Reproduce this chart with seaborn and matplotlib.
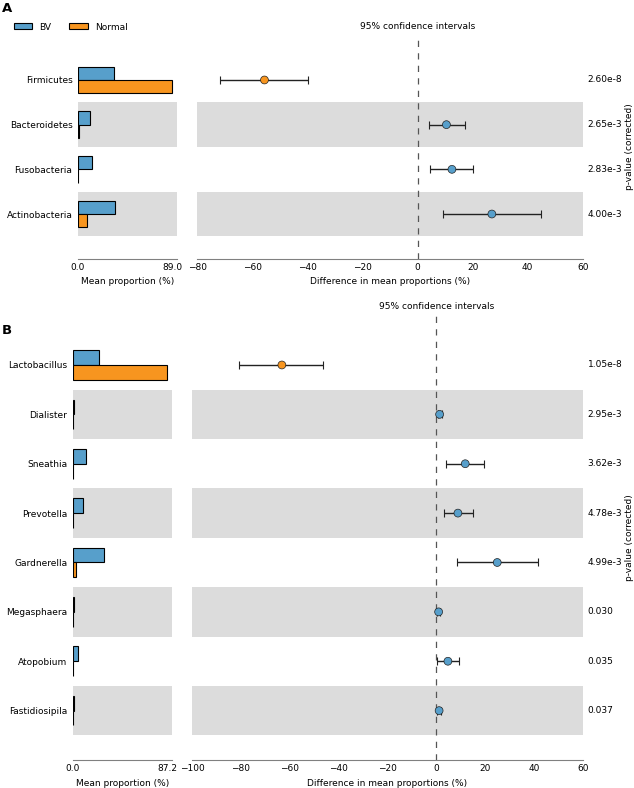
#!/usr/bin/env python3
"""
Extended error bar plots (STAMP style): mean proportions per group on the left,
difference in mean proportions with 95% CI on the right, corrected p-values.
"""

import matplotlib

matplotlib.use("Agg")
import matplotlib.pyplot as plt
import matplotlib.transforms as mtransforms
import pandas as pd
import seaborn as sns
from matplotlib.patches import Patch

BLUE = "#579fcb"
ORANGE = "#f7951f"
BAND = "#dcdcdc"
GROUPS = ["BV", "Normal"]

# Panel A: phylum level
phyla = ["Firmicutes", "Bacteroidetes", "Fusobacteria", "Actinobacteria"]
phyla_bv = [33.8, 11.6, 13.0, 35.3]
phyla_normal = [89.0, 1.0, 0.2, 8.2]
phyla_diff = [-55.6, 10.5, 12.5, 27.0]
phyla_ci_low = [-71.9, 4.0, 4.7, 9.3]
phyla_ci_high = [-39.9, 17.1, 20.3, 44.9]
phyla_p = ["2.60e-8", "2.65e-3", "2.83e-3", "4.00e-3"]

# Panel B: genus level
genera = ["Lactobacillus", "Dialister", "Sneathia", "Prevotella",
          "Gardnerella", "Megasphaera", "Atopobium", "Fastidiosipila"]
genera_bv = [24.0, 1.5, 12.3, 9.5, 28.6, 1.0, 5.2, 1.3]
genera_normal = [87.2, 0.1, 0.1, 0.5, 3.3, 0.05, 0.3, 0.1]
genera_diff = [-63.2, 1.4, 11.9, 8.9, 25.0, 1.0, 4.8, 1.2]
genera_ci_low = [-80.6, 0.6, 4.2, 3.1, 8.5, 0.4, 0.4, 0.5]
genera_ci_high = [-46.2, 2.2, 19.5, 14.9, 41.7, 1.6, 9.5, 1.9]
genera_p = ["1.05e-8", "2.95e-3", "3.62e-3", "4.78e-3",
            "4.99e-3", "0.030", "0.035", "0.037"]

W, H = 634, 788


def rect(x0, x1, ytop, ybot):
    return [x0 / W, 1 - ybot / H, (x1 - x0) / W, (ybot - ytop) / H]


def style_axis(ax):
    for side in ["top", "right", "left"]:
        ax.spines[side].set_visible(False)
    ax.spines["bottom"].set_color("#808080")
    ax.tick_params(axis="x", direction="in", length=4, color="#808080",
                   pad=3, labelsize=6.5, labelcolor="black")
    ax.tick_params(axis="y", length=0, labelsize=6.5, labelcolor="black")
    ax.set_facecolor("none")


def draw_panel(fig, bar_rect, diff_rect, names, bv, normal, diff, lo, hi,
               pvals, diff_xlim, diff_ticks, plabel_x):
    n = len(names)
    ax_bar = fig.add_axes(bar_rect)
    ax_diff = fig.add_axes(diff_rect)

    df = pd.DataFrame({
        "taxon": names * 2,
        "group": [GROUPS[0]] * n + [GROUPS[1]] * n,
        "value": bv + normal,
    })
    top = max(bv + normal)

    for ax in (ax_bar, ax_diff):
        for i in range(1, n, 2):
            ax.axhspan(i - 0.5, i + 0.5, color=BAND, lw=0, zorder=0)

    sns.barplot(data=df, y="taxon", x="value", hue="group", order=names,
                hue_order=GROUPS, palette=[BLUE, ORANGE], orient="h",
                width=0.6, dodge=True, errorbar=None, edgecolor="black",
                linewidth=0.8, saturation=1, legend=False, ax=ax_bar, zorder=2)
    ax_bar.set_xlim(0, top * 1.05)
    ax_bar.set_ylim(n, -1)
    ax_bar.set_xticks([0, top])
    ax_bar.set_xticklabels(["0.0", f"{top:.1f}"])
    ax_bar.set_xlabel("Mean proportion (%)", fontsize=6.5, labelpad=4)
    ax_bar.set_ylabel("")
    style_axis(ax_bar)
    ax_bar.tick_params(axis="y", pad=4)

    ypos = list(range(n))
    xerr = [[d - l for d, l in zip(diff, lo)], [h - d for d, h in zip(diff, hi)]]
    ax_diff.axvline(0, color="#555555", lw=0.9, ls=(0, (5, 5)), zorder=1)
    ax_diff.errorbar(diff, ypos, xerr=xerr, fmt="none", ecolor="#222222",
                     elinewidth=1.0, capsize=3, capthick=0.8, zorder=2)
    colors = [ORANGE if d < 0 else BLUE for d in diff]
    sns.scatterplot(x=diff, y=ypos, hue=names, palette=colors, s=32,
                    edgecolor="#222222", linewidth=0.5, legend=False,
                    ax=ax_diff, zorder=3)
    ax_diff.set_xlim(*diff_xlim)
    ax_diff.set_ylim(n, -1)
    ax_diff.set_xticks(diff_ticks)
    ax_diff.set_xticklabels([f"{t:d}".replace("-", "\u2212") for t in diff_ticks])
    ax_diff.set_yticks([])
    ax_diff.set_xlabel("Difference in mean proportions (%)", fontsize=6.5,
                       labelpad=4)
    style_axis(ax_diff)

    ax_diff.text(0, -1, "95% confidence intervals", fontsize=6.5,
                 ha="center", va="bottom",
                 transform=mtransforms.offset_copy(ax_diff.transData, fig,
                                                   y=3, units="points"))
    trans = mtransforms.blended_transform_factory(ax_diff.transAxes,
                                                  ax_diff.transData)
    trans = mtransforms.offset_copy(trans, fig, x=3.5, units="points")
    for i, p in enumerate(pvals):
        ax_diff.text(1, i, p, fontsize=6.5, ha="left", va="center",
                     transform=trans)
    pos = ax_diff.get_position()
    fig.text(plabel_x / W, pos.y0 + pos.height / 2, "p-value (corrected)",
             rotation=90, fontsize=6.5, ha="center", va="center")


def main() -> None:
    sns.set_style("white")
    plt.rcParams["font.family"] = ["DejaVu Sans"]
    plt.rcParams["text.color"] = "black"
    plt.rcParams["axes.labelcolor"] = "black"
    fig = plt.figure(figsize=(W / 100, H / 100), dpi=100)

    draw_panel(fig, rect(78, 177, 35.3, 258.7), rect(197.3, 582.7, 35.3, 258.7),
               phyla, phyla_bv, phyla_normal, phyla_diff, phyla_ci_low,
               phyla_ci_high, phyla_p, (-80, 60), [-80, -60, -40, -20, 0, 20, 40, 60],
               629.5)
    draw_panel(fig, rect(72.7, 172, 315.6, 760), rect(192, 582.7, 315.6, 760),
               genera, genera_bv, genera_normal, genera_diff, genera_ci_low,
               genera_ci_high, genera_p, (-100, 60),
               [-100, -80, -60, -40, -20, 0, 20, 40, 60], 629.5)

    fig.text(2 / W, 1 - 9 / H, "A", fontsize=9.5, fontweight="bold",
             ha="left", va="center")
    fig.text(2 / W, 1 - 331 / H, "B", fontsize=9.5, fontweight="bold",
             ha="left", va="center")

    handles = [Patch(facecolor=BLUE, edgecolor="black", lw=0.8),
               Patch(facecolor=ORANGE, edgecolor="black", lw=0.8)]
    fig.legend(handles, GROUPS, loc="center left", ncol=2, frameon=False,
               fontsize=6.5, handlelength=2.0, handleheight=0.6,
               handletextpad=0.8, columnspacing=2.0,
               bbox_to_anchor=(6 / W, 1 - 27 / H))

    fig.savefig("out.png", dpi=100)
    plt.close(fig)


if __name__ == "__main__":
    main()
